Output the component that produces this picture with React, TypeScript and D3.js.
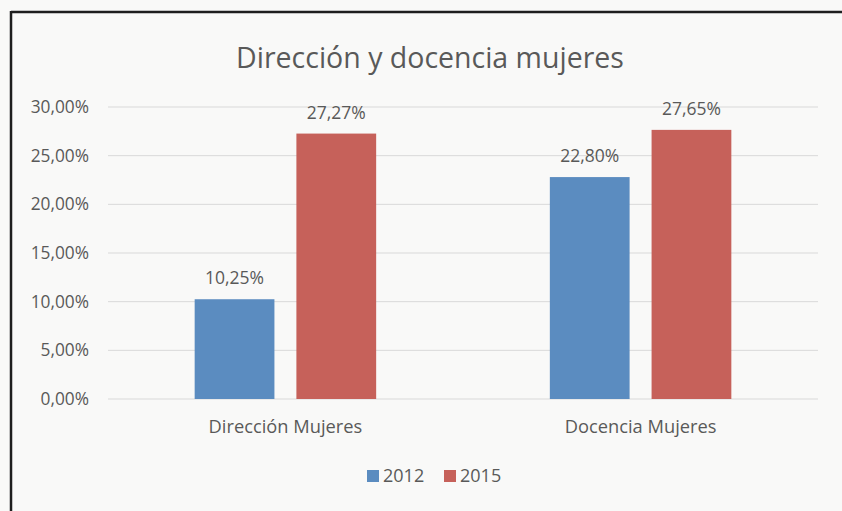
import * as React from 'react';
import * as d3 from 'd3';

const categories: string[] = ['Dirección Mujeres', 'Docencia Mujeres'];
const seriesNames: string[] = ['2012', '2015'];
const values2012: number[] = [0.1025, 0.228];
const values2015: number[] = [0.2727, 0.2765];
const yTicks: number[] = [0, 0.05, 0.1, 0.15, 0.2, 0.25, 0.3];
const chartTitle = 'Dirección y docencia mujeres';

const colors: string[] = ['#5B8CC0', '#C6615A'];
const textColor = '#595959';
const fontFamily = '"Open Sans", "Noto Sans", sans-serif';

const fmtPct = (v: number): string => (v * 100).toFixed(2).replace('.', ',') + '%';

const App: React.FC = () => {
	const ref = React.useRef<SVGSVGElement>(null);
	const width = 842;
	const height = 511;

	React.useEffect(() => {
		const svg = d3.select(ref.current);
		svg.selectAll('*').remove();

		// paper background and the frame at top / left
		svg.append('rect').attr('width', width).attr('height', height).attr('fill', '#f9f9f8');
		svg.append('line').attr('x1', 11).attr('x2', width).attr('y1', 12).attr('y2', 12).attr('stroke', '#1e1e1e').attr('stroke-width', 2.5);
		svg.append('line').attr('x1', 11).attr('x2', 11).attr('y1', 11).attr('y2', height).attr('stroke', '#1e1e1e').attr('stroke-width', 2.5);

		const left = 108;
		const right = 818;
		const y = d3.scaleLinear().domain([0, 0.3]).range([399, 107]);

		const x0 = d3.scaleBand<string>().domain(categories).range([left, right]).paddingInner(0.489).paddingOuter(0.244);
		const x1 = d3.scaleBand<string>().domain(seriesNames).range([0, x0.bandwidth()]).paddingInner(0.216).paddingOuter(0);

		// title
		svg.append('text')
			.attr('x', 430)
			.attr('y', 68)
			.attr('text-anchor', 'middle')
			.attr('font-family', fontFamily)
			.attr('font-size', 28.5)
			.attr('fill', textColor)
			.text(chartTitle);

		// gridlines + y labels
		const grid = svg.append('g');
		grid.selectAll('line')
			.data(yTicks)
			.enter()
			.append('line')
			.attr('x1', left)
			.attr('x2', right)
			.attr('y1', (d) => y(d))
			.attr('y2', (d) => y(d))
			.attr('stroke', '#d9d9d9')
			.attr('stroke-width', 1);
		grid.selectAll('text')
			.data(yTicks)
			.enter()
			.append('text')
			.attr('x', 89)
			.attr('y', (d) => y(d))
			.attr('dy', '0.35em')
			.attr('text-anchor', 'end')
			.attr('font-family', fontFamily)
			.attr('font-size', 17.3)
			.attr('fill', textColor)
			.text((d) => fmtPct(d));

		// bars
		const seriesValues = [values2012, values2015];
		const groups = svg.append('g')
			.selectAll('g')
			.data(categories)
			.enter()
			.append('g')
			.attr('transform', (d) => `translate(${x0(d)},0)`);

		groups.selectAll('rect')
			.data((_d, i) => seriesNames.map((s, k) => ({ s, v: seriesValues[k][i], k })))
			.enter()
			.append('rect')
			.attr('x', (d) => x1(d.s) as number)
			.attr('width', x1.bandwidth())
			.attr('y', (d) => y(d.v))
			.attr('height', (d) => y(0) - y(d.v))
			.attr('fill', (d) => colors[d.k]);

		groups.selectAll('text.val')
			.data((_d, i) => seriesNames.map((s, k) => ({ s, v: seriesValues[k][i], k })))
			.enter()
			.append('text')
			.attr('class', 'val')
			.attr('x', (d) => (x1(d.s) as number) + x1.bandwidth() / 2)
			.attr('y', (d) => y(d.v) - 15)
			.attr('text-anchor', 'middle')
			.attr('font-family', fontFamily)
			.attr('font-size', 17.5)
			.attr('fill', textColor)
			.text((d) => fmtPct(d.v));

		// category labels
		svg.append('g')
			.selectAll('text')
			.data(categories)
			.enter()
			.append('text')
			.attr('x', (d) => (x0(d) as number) + x0.bandwidth() / 2)
			.attr('y', 433)
			.attr('text-anchor', 'middle')
			.attr('font-family', fontFamily)
			.attr('font-size', 18.3)
			.attr('fill', textColor)
			.text((d) => d);

		// legend
		const legend = svg.append('g')
			.selectAll('g')
			.data(seriesNames)
			.enter()
			.append('g')
			.attr('transform', (_d, i) => `translate(${367 + i * 77},470)`);
		legend.append('rect').attr('width', 12).attr('height', 12).attr('fill', (_d, i) => colors[i]);
		legend.append('text')
			.attr('x', 16)
			.attr('y', 6)
			.attr('dy', '0.35em')
			.attr('font-family', fontFamily)
			.attr('font-size', 18)
			.attr('fill', textColor)
			.text((d) => d);
	}, []);

	return <svg ref={ref} width={width} height={height} style={{ position: 'absolute', left: 0, top: 0 }} />;
};

export default App;
